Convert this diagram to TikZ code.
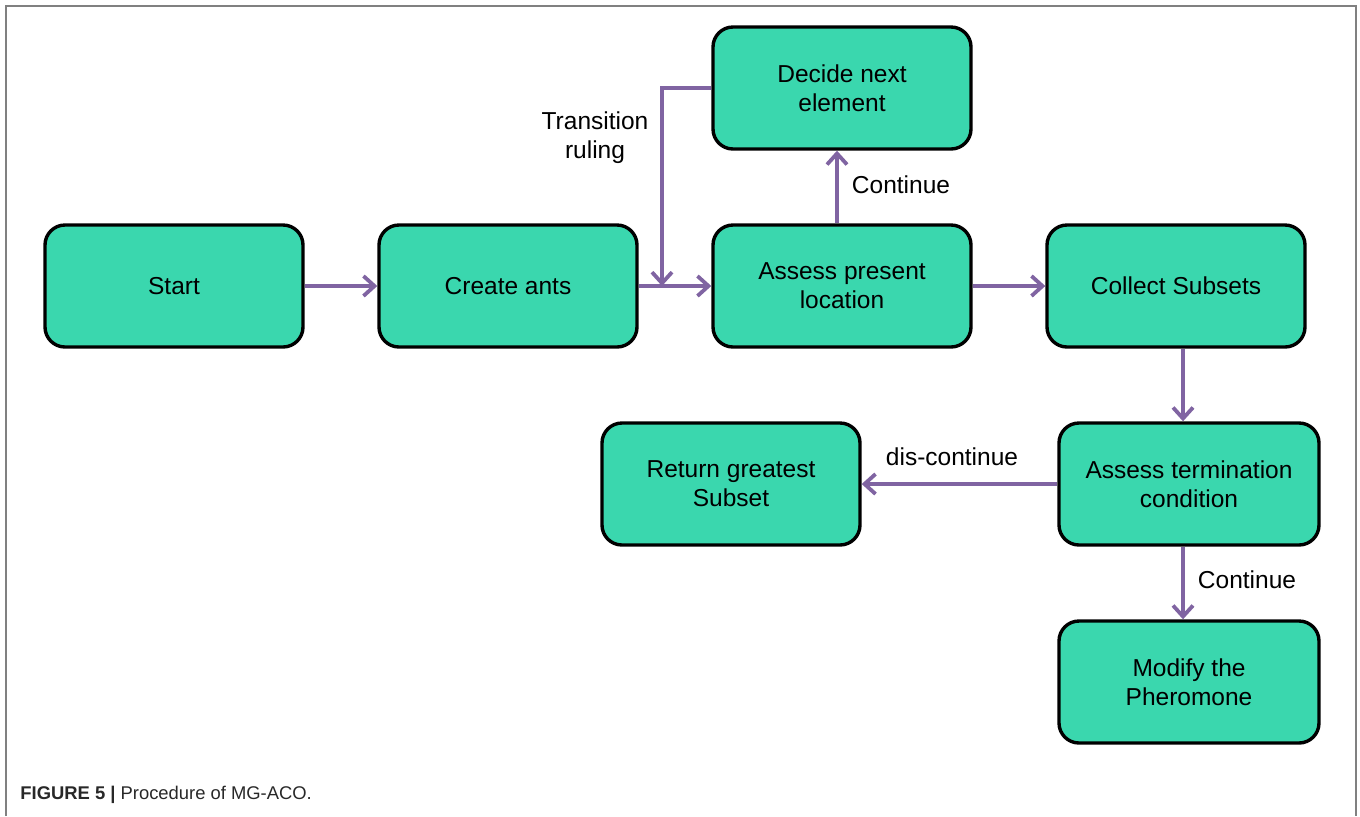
\documentclass[tikz,border=0pt]{standalone}
\usepackage{fontspec}
\setmainfont{Liberation Sans}
\usetikzlibrary{arrows.meta}
\definecolor{boxfill}{RGB}{58,215,174}
\definecolor{arrowc}{RGB}{128,100,162}
\definecolor{framec}{RGB}{128,128,128}
\definecolor{capc}{RGB}{40,40,40}
\tikzset{
  procbox/.style={draw=black, line width=1.7pt, fill=boxfill, rounded corners=10pt,
    minimum width=129pt, minimum height=61pt, align=center, inner sep=2pt,
    font=\fontsize{12.25}{14.5}\selectfont},
  flow/.style={draw=arrowc, line width=1.9pt, -{Straight Barb[length=5.5pt,width=10pt]}},
  lbl/.style={align=center, font=\fontsize{12.25}{14.5}\selectfont, inner sep=0pt}
}
\begin{document}
\begin{tikzpicture}[x=0.5pt,y=-0.5pt]
\useasboundingbox (0,0) rectangle (1360,816);
\draw[framec, line width=1pt] (6,816) -- (6,6) -- (1356,6) -- (1356,816);

\node[procbox] (start) at (174,286) {Start};
\node[procbox] (create) at (508,286) {Create ants};
\node[procbox] (assess) at (842,286) {Assess present\\location};
\node[procbox] (decide) at (842,88) {Decide next\\element};
\node[procbox] (collect) at (1176,286) {Collect Subsets};
\node[procbox, minimum width=130pt] (term) at (1189,484) {Assess termination\\condition};
\node[procbox] (ret) at (731,484) {Return greatest\\Subset};
\node[procbox, minimum width=130pt] (modify) at (1189,682) {Modify the\\Pheromone};

\coordinate (trc) at (662,286);

\draw[flow] (start) -- (create);
\draw[flow] (create) -- (assess);
\draw[flow] (decide.west) -| (trc);
\draw[flow] ([xshift=-2.5pt]assess.north) -- ([xshift=-2.5pt]decide.south);
\draw[flow] (assess) -- (collect);
\draw[flow] ([xshift=3.5pt]collect.south) -- ([xshift=3.5pt]collect.south |- term.north);
\draw[flow] (term.west) -- (ret.east);
\draw[flow] ([xshift=-3pt]term.south) -- ([xshift=-3pt]modify.north);

\node[lbl] (ltr) at (595,138) {Transition\\ruling};
\node[lbl] (lc1) at (901,185) {Continue};
\node[lbl] (ldc) at (952,457) {dis-continue};
\node[lbl] (lc2) at (1247,580) {Continue};

\node[anchor=west, inner sep=0pt, text=capc, font=\fontsize{9.2}{11}\selectfont] (cap) at (20,795)
  {\textbf{FIGURE 5 |} Procedure of MG-ACO.};
\end{tikzpicture}
\end{document}
